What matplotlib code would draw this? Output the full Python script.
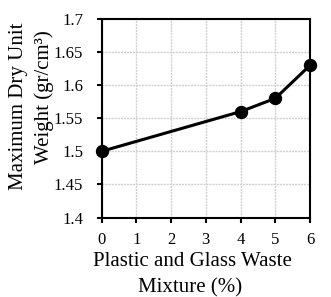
import matplotlib
matplotlib.use("Agg")
import matplotlib.pyplot as plt

mixture = [0, 4, 5, 6]
dry_unit_weight = [1.50, 1.56, 1.58, 1.63]
xticks = [0, 1, 2, 3, 4, 5, 6]
yticks = [1.4, 1.45, 1.5, 1.55, 1.6, 1.65, 1.7]
ytick_labels = ["1.4", "1.45", "1.5", "1.55", "1.6", "1.65", "1.7"]
xlabel_lines = ["Plastic and Glass Waste", "Mixture (%)"]
ylabel_lines = ["Maximum Dry Unit", "Weight (gr/cm³)"]

plt.rcParams['font.family'] = ['Liberation Serif', 'DejaVu Serif']

W, H = 331, 297
fig = plt.figure(figsize=(W/100, H/100), dpi=100)
ax = fig.add_axes([101.5/W, 1-217.5/H, (310-101.5)/W, (217.5-19)/H])

ax.plot(mixture, dry_unit_weight, color='black', lw=2.2, marker='o', ms=8.6, zorder=3, clip_on=False)
ax.set_xlim(0, 6)
ax.set_ylim(1.4, 1.7)
ax.set_xticks(xticks)
ax.set_yticks(yticks)
ax.set_yticklabels(ytick_labels)
ax.grid(True, color='#d0d0d0', lw=1.0, ls=(0, (1.5, 0.7)))
ax.set_axisbelow(True)
for s in ax.spines.values():
    s.set_linewidth(1.5)
    s.set_color('black')
ax.tick_params(direction='out', length=3.8, width=1.5, labelsize=12, colors='black')
ax.tick_params(axis='y', pad=9.5)
ax.tick_params(axis='x', pad=6.5)

# axis titles (two centred lines each, positioned like the reference)
fig.text(192/W, 1-266/H, xlabel_lines[0], fontsize=15, ha='center', va='baseline')
fig.text(190/W, 1-292.5/H, xlabel_lines[1], fontsize=15, ha='center', va='baseline')
fig.text(23/W, 1-106.5/H, ylabel_lines[0], fontsize=15, rotation=90,
         rotation_mode='anchor', ha='center', va='baseline')
fig.text(49/W, 1-97.5/H, ylabel_lines[1], fontsize=15, rotation=90,
         rotation_mode='anchor', ha='center', va='baseline')

fig.savefig("out.png", dpi=100)
